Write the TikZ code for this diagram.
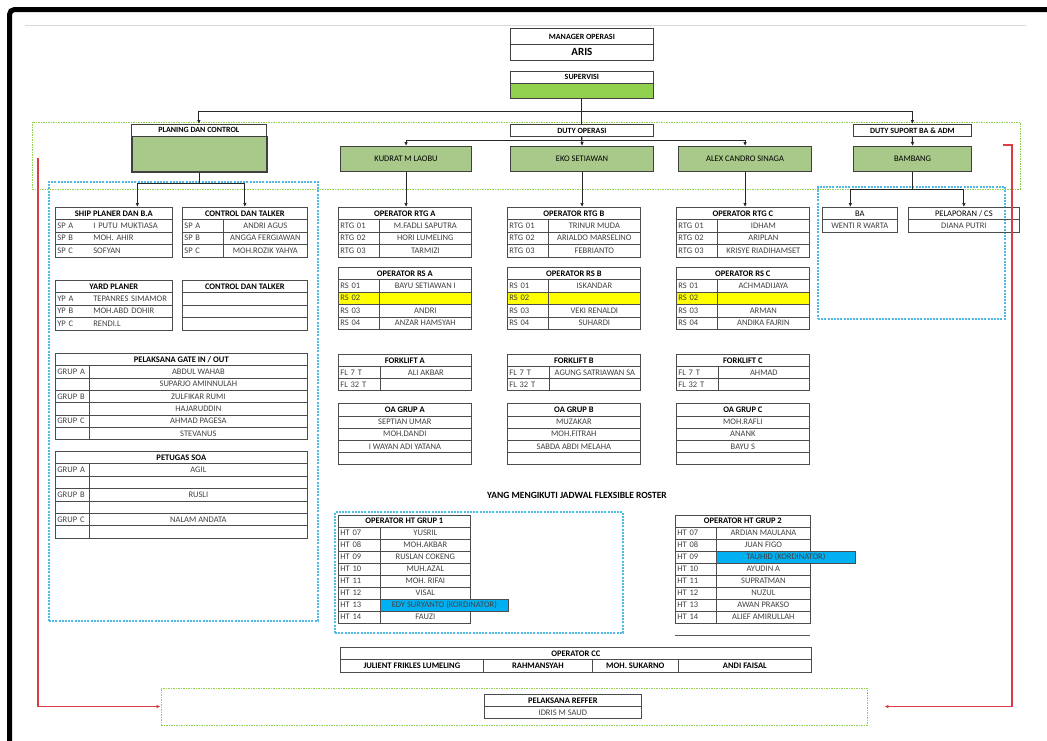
\documentclass[tikz,border=0pt]{standalone}
\usepackage{fontspec}
\setmainfont{Carlito}
\usetikzlibrary{arrows.meta}
\definecolor{sage}{RGB}{169,201,139}
\definecolor{leaf}{RGB}{146,208,80}
\definecolor{zoneblue}{RGB}{80,185,230}
\definecolor{kordblue}{RGB}{0,176,240}
\definecolor{hilite}{RGB}{255,255,0}
\definecolor{rosterred}{RGB}{220,60,70}

\begin{document}
\begin{tikzpicture}[x=1pt, y=-1pt,
  cell/.style={draw=black!70, line width=0.7pt, anchor=north west, inner sep=0pt, minimum height=12.5pt, text=black!75, font=\fontsize{8.5}{9}\selectfont},
  headcell/.style={cell, minimum height=12pt, text=black, font=\fontsize{8.5}{9}\selectfont\bfseries},
  keycell/.style={cell, minimum width=#1, text width=#1-4, align=left},
  namecell/.style={cell, minimum width=#1},
  topbox/.style={draw=black!75, line width=0.8pt, anchor=north west, inner sep=0pt, font=\fontsize{8}{9}\selectfont\bfseries},
  chief/.style={topbox, fill=sage, line width=1.1pt, minimum height=25pt, font=\fontsize{8.5}{9}\selectfont},
  greenzone/.style={draw=leaf, dash pattern=on 1.5pt off 1pt, line width=0.9pt, inner sep=0pt},
  bluezone/.style={draw=zoneblue, dash pattern=on 2pt off 1.2pt, line width=1.1pt, inner sep=0pt},
  arr/.style={draw=black!85, line width=1pt, -{Latex[length=4pt,width=3.6pt]}},
  redline/.style={draw=rosterred, line width=1.3pt, -{Latex[length=4pt,width=3.6pt]}}]

\useasboundingbox (0,0) rectangle (1047,740);
\draw[line width=5pt, rounded corners=5pt] (9.5,760) -- (9.5,9.5) -- (1060,9.5);
\draw[black!15, line width=1.3pt] (25,25.5) -- (1026,25.5);

% dashed zones
\node[greenzone, minimum width=988, minimum height=67] at (526,155.5) (dutyzone) {};
\node[bluezone, minimum width=269, minimum height=439] at (183.5,401.5) (planzone) {};
\node[bluezone, minimum width=187, minimum height=132] at (911.5,253) (suppzone) {};
\node[bluezone, minimum width=288, minimum height=121] at (479,572.5) (htzone) {};
\node[greenzone, minimum width=706, minimum height=37] at (514,706.5) (reffzone) {};

% top levels
\node[topbox, minimum width=143, minimum height=16] at (510,28) (manager) {MANAGER OPERASI};
\node[topbox, minimum width=143, minimum height=16, font=\fontsize{11}{12}\selectfont\bfseries] at (510,44) (aris) {ARIS};
\node[topbox, minimum width=143, minimum height=12] at (510,71) (supervisi) {SUPERVISI};
\node[topbox, minimum width=143, minimum height=15, fill=leaf] at (510,83) (superbox) {};
\node[topbox, minimum width=135, minimum height=11.5] at (131,124) (planing) {PLANING DAN CONTROL};
\node[topbox, minimum width=135, minimum height=35.5, fill=sage, line width=1.6pt] at (131,135.5) (planbox) {};
\node[topbox, minimum width=143, minimum height=12] at (510,124) (dutyop) {DUTY OPERASI};
\node[topbox, minimum width=118, minimum height=12] at (853,124) (dutysup) {DUTY SUPORT BA \& ADM};
\node[chief, minimum width=131] at (340,146) (kudrat) {KUDRAT M LAOBU};
\node[chief, minimum width=143] at (510,146) (eko) {EKO SETIAWAN};
\node[chief, minimum width=133] at (678,146) (alex) {ALEX CANDRO SINAGA};
\node[chief, minimum width=118] at (853,146) (bambang) {BAMBANG};

% planing dan control
\node[headcell, minimum width=117] at (55,207) (ship) {SHIP PLANER DAN B.A};
\foreach \k/\n [count=\i] in {SP A/I PUTU MUKTIASA, SP B/MOH. AHIR, SP C/SOFYAN}
  \node[keycell=117] at (55,206.5+12.5*\i) (ship-r\i) {\makebox[36pt][l]{\k}\n};
\node[headcell, minimum width=125] at (182,207) (ctrla) {CONTROL DAN TALKER};
\foreach \k/\n [count=\i] in {SP A/ANDRI AGUS, SP B/ANGGA FERGIAWAN, SP C/MOH.ROZIK YAHYA} {
  \node[keycell=41] at (182,206.5+12.5*\i) (ctrla-k\i) {\k};
  \node[namecell=84] at (223,206.5+12.5*\i) (ctrla-n\i) {\n};
}
\node[headcell, minimum width=117] at (55,280) (yard) {YARD PLANER};
\foreach \k/\n [count=\i] in {YP A/TEPANRES SIMAMOR, YP B/MOH.ABD DOHIR, YP C/RENDI.L}
  \node[keycell=117] at (55,279.5+12.5*\i) (yard-r\i) {\makebox[36pt][l]{\k}\n};
\node[headcell, minimum width=125] at (182,280) (ctrlb) {CONTROL DAN TALKER};
\foreach \i in {1,2,3}
  \node[namecell=125] at (182,279.5+12.5*\i) (ctrlb-r\i) {};
\node[headcell, minimum width=252, minimum height=12.4] at (55,353) (gate) {PELAKSANA GATE IN / OUT};
\foreach \k/\n [count=\i] in {GRUP A/ABDUL WAHAB, /SUPARJO AMINNULAH, GRUP B/ZULFIKAR RUMI, /HAJARUDDIN, GRUP C/AHMAD PAGESA, /STEVANUS} {
  \node[keycell=34, minimum height=12.3] at (55,353.1+12.3*\i) (gate-k\i) {\k};
  \node[namecell=218, minimum height=12.3] at (89,353.1+12.3*\i) (gate-n\i) {\n};
}
\node[headcell, minimum width=252, minimum height=12.4] at (55,451) (soa) {PETUGAS SOA};
\foreach \k/\n [count=\i] in {GRUP A/AGIL, /, GRUP B/RUSLI, /, GRUP C/NALAM ANDATA, /} {
  \node[keycell=34, minimum height=12.4] at (55,451+12.4*\i) (soa-k\i) {\k};
  \node[namecell=218, minimum height=12.4] at (89,451+12.4*\i) (soa-n\i) {\n};
}

% operator rtg
\node[headcell, minimum width=133] at (338,207) (rtga) {OPERATOR RTG A};
\foreach \k/\n [count=\i] in {RTG 01/M.FADLI SAPUTRA, RTG 02/HORI LUMELING, RTG 03/TARMIZI} {
  \node[keycell=41] at (338,206.5+12.5*\i) (rtga-k\i) {\k};
  \node[namecell=92] at (379,206.5+12.5*\i) (rtga-n\i) {\n};
}
\node[headcell, minimum width=133] at (507,207) (rtgb) {OPERATOR RTG B};
\foreach \k/\n [count=\i] in {RTG 01/TRINUR MUDA, RTG 02/ARIALDO MARSELINO, RTG 03/FEBRIANTO} {
  \node[keycell=41] at (507,206.5+12.5*\i) (rtgb-k\i) {\k};
  \node[namecell=92] at (548,206.5+12.5*\i) (rtgb-n\i) {\n};
}
\node[headcell, minimum width=133] at (676,207) (rtgc) {OPERATOR RTG C};
\foreach \k/\n [count=\i] in {RTG 01/IDHAM, RTG 02/ARIPLAN, RTG 03/KRISYE RIADIHAMSET} {
  \node[keycell=41] at (676,206.5+12.5*\i) (rtgc-k\i) {\k};
  \node[namecell=92] at (717,206.5+12.5*\i) (rtgc-n\i) {\n};
}

% operator rs
\node[headcell, minimum width=133] at (338,267) (rsa) {OPERATOR RS A};
\foreach \k/\n/\f [count=\i] in {RS 01/BAYU SETIAWAN I/none, RS 02//hilite, RS 03/ANDRI/none, RS 04/ANZAR HAMSYAH/none} {
  \node[keycell=41, fill=\f] at (338,266.5+12.5*\i) (rsa-k\i) {\k};
  \node[namecell=92, fill=\f] at (379,266.5+12.5*\i) (rsa-n\i) {\n};
}
\node[headcell, minimum width=133] at (507,267) (rsb) {OPERATOR RS B};
\foreach \k/\n/\f [count=\i] in {RS 01/ISKANDAR/none, RS 02//hilite, RS 03/VEKI RENALDI/none, RS 04/SUHARDI/none} {
  \node[keycell=41, fill=\f] at (507,266.5+12.5*\i) (rsb-k\i) {\k};
  \node[namecell=92, fill=\f] at (548,266.5+12.5*\i) (rsb-n\i) {\n};
}
\node[headcell, minimum width=133] at (676,267) (rsc) {OPERATOR RS C};
\foreach \k/\n/\f [count=\i] in {RS 01/ACHMADIJAYA/none, RS 02//hilite, RS 03/ARMAN/none, RS 04/ANDIKA FAJRIN/none} {
  \node[keycell=41, fill=\f] at (676,266.5+12.5*\i) (rsc-k\i) {\k};
  \node[namecell=92, fill=\f] at (717,266.5+12.5*\i) (rsc-n\i) {\n};
}

% forklift
\node[headcell, minimum width=133] at (338,354) (fla) {FORKLIFT A};
\foreach \k/\n [count=\i] in {FL 7 T/ALI AKBAR, FL 32 T/} {
  \node[keycell=42, minimum height=12] at (338,354+12*\i) (fla-k\i) {\k};
  \node[namecell=91, minimum height=12] at (380,354+12*\i) (fla-n\i) {\n};
}
\node[headcell, minimum width=133] at (507,354) (flb) {FORKLIFT B};
\foreach \k/\n [count=\i] in {FL 7 T/AGUNG SATRIAWAN SA, FL 32 T/} {
  \node[keycell=42, minimum height=12] at (507,354+12*\i) (flb-k\i) {\k};
  \node[namecell=91, minimum height=12] at (549,354+12*\i) (flb-n\i) {\n};
}
\node[headcell, minimum width=133] at (676,354) (flc) {FORKLIFT C};
\foreach \k/\n [count=\i] in {FL 7 T/AHMAD, FL 32 T/} {
  \node[keycell=42, minimum height=12] at (676,354+12*\i) (flc-k\i) {\k};
  \node[namecell=91, minimum height=12] at (718,354+12*\i) (flc-n\i) {\n};
}

% oa grup
\node[headcell, minimum width=133, minimum height=12.5] at (338,403) (oaa) {OA GRUP A};
\foreach \n [count=\i] in {SEPTIAN UMAR, MOH.DANDI, I WAYAN ADI YATANA, {}}
  \node[namecell=133, minimum height=12.2] at (338,403.3+12.2*\i) (oaa-r\i) {\n};
\node[headcell, minimum width=133, minimum height=12.5] at (507,403) (oab) {OA GRUP B};
\foreach \n [count=\i] in {MUZAKAR, MOH.FITRAH, SABDA ABDI MELAHA, {}}
  \node[namecell=133, minimum height=12.2] at (507,403.3+12.2*\i) (oab-r\i) {\n};
\node[headcell, minimum width=133, minimum height=12.5] at (676,403) (oac) {OA GRUP C};
\foreach \n [count=\i] in {MOH.RAFLI, ANANK, BAYU S, {}}
  \node[namecell=133, minimum height=12.2] at (676,403.3+12.2*\i) (oac-r\i) {\n};

\node[font=\fontsize{9.5}{10}\selectfont\bfseries] at (577,495) (roster) {YANG MENGIKUTI JADWAL FLEXSIBLE ROSTER};

% operator ht
\node[headcell, minimum width=132, minimum height=11.5] at (338,515) (hta) {OPERATOR HT GRUP 1};
\foreach \k/\n/\w/\f [count=\i] in {HT 07/YUSRIL/90/none, HT 08/MOH.AKBAR/90/none, HT 09/RUSLAN COKENG/90/none, HT 10/MUH.AZAL/90/none, HT 11/MOH. RIFAI/90/none, HT 12/VISAL/90/none, HT 13/EDY SURYANTO (KORDINATOR)/128/kordblue, HT 14/FAUZI/90/none} {
  \node[keycell=42, minimum height=12] at (338,514.5+12*\i) (hta-k\i) {\k};
  \node[namecell=\w, minimum height=12, fill=\f] at (380,514.5+12*\i) (hta-n\i) {\n};
}
\node[headcell, minimum width=135, minimum height=11.5] at (675,515) (htb) {OPERATOR HT GRUP 2};
\foreach \k/\n/\w/\f [count=\i] in {HT 07/ARDIAN MAULANA/94/none, HT 08/JUAN FIGO/94/none, HT 09/TAUHID (KORDINATOR)/139/kordblue, HT 10/AYUDIN A/94/none, HT 11/SUPRATMAN/94/none, HT 12/NUZUL/94/none, HT 13/AWAN PRAKSO/94/none, HT 14/ALIEF AMIRULLAH/94/none} {
  \node[keycell=41, minimum height=12] at (675,514.5+12*\i) (htb-k\i) {\k};
  \node[namecell=\w, minimum height=12, fill=\f] at (716,514.5+12*\i) (htb-n\i) {\n};
}
\coordinate (htb-end1) at (675,635);
\coordinate (htb-end2) at (810,635);
\draw[black!65, line width=0.8pt] (htb-end1) -- (htb-end2);

% operator cc
\node[headcell, minimum width=471] at (340,647) (cc) {OPERATOR CC};
\node[namecell=143, text=black, font=\fontsize{8.5}{9}\selectfont\bfseries] at (340,659) (cc-1) {JULIENT FRIKLES LUMELING};
\node[namecell=109, text=black, font=\fontsize{8.5}{9}\selectfont\bfseries] at (483,659) (cc-2) {RAHMANSYAH};
\node[namecell=86, text=black, font=\fontsize{8.5}{9}\selectfont\bfseries] at (592,659) (cc-3) {MOH. SUKARNO};
\node[namecell=133, text=black, font=\fontsize{8.5}{9}\selectfont\bfseries] at (678,659) (cc-4) {ANDI FAISAL};

% pelaksana reffer
\node[headcell, minimum width=157] at (484,694) (reffer) {PELAKSANA REFFER};
\node[namecell=157, minimum height=12] at (484,706) (reffer-n) {IDRIS M SAUD};

% duty suport
\node[namecell=75, minimum height=12, text=black] at (822,207) (ba) {BA};
\node[namecell=75] at (822,219) (ba-n) {WENTI R WARTA};
\node[namecell=111, minimum height=12, text=black] at (908,207) (lapor) {PELAPORAN / CS};
\node[namecell=111] at (908,219) (lapor-n) {DIANA PUTRI};

% connectors
\draw[arr, -] (superbox.south) -- (dutyop.north);
\draw[arr] (superbox.south) -- ++(0,13) -| (planing.north);
\draw[arr] (superbox.south) -- ++(0,13) -| (dutysup.north);
\draw[arr] (dutyop.south) -- ++(0,4) -| (kudrat.north);
\draw[arr] (dutyop.south) -- (eko.north);
\draw[arr] (dutyop.south) -- ++(0,4) -| (alex.north);
\draw[arr] (dutysup.south) -- (bambang.north);
\draw[arr] (planbox.south) -- ++(0,11) -| ([xshift=23.5pt]ship.north);
\draw[arr] (planbox.south) -- ++(0,11) -| (ctrla.north);
\draw[arr] (kudrat.south) -- (kudrat.south |- rtga.north);
\draw[arr] (eko.south) -- (eko.south |- rtgb.north);
\draw[arr] (alex.south) -- (alex.south |- rtgc.north);
\draw[arr] (bambang.south) -- ++(0,17) -| ([xshift=-9.5pt]ba.north);
\draw[arr] (bambang.south) -- ++(0,17) -| (lapor.north);

\coordinate (redtopL) at (38,158);
\coordinate (redtopR) at (1003,145);
\draw[redline] (redtopL) |- (reffzone.west);
\draw[redline] (redtopR) -- ++(9,0) |- ([xshift=17pt]reffzone.east);

\end{tikzpicture}
\end{document}
